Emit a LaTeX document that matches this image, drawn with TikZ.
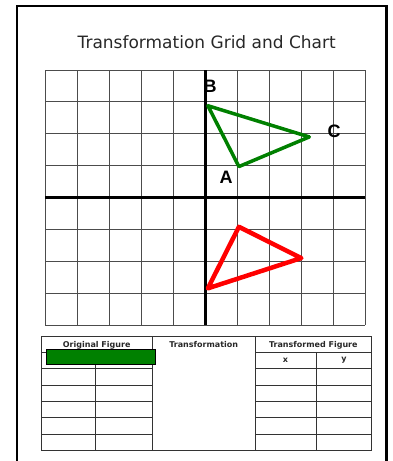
\documentclass[tikz,border=0pt]{standalone}
\usepackage{fontspec}
\setmainfont{DejaVu Sans}
\newfontfamily\pointfont{Liberation Sans}
\usetikzlibrary{positioning}
\definecolor{origgreen}{RGB}{0,128,0}
\definecolor{imagered}{RGB}{255,0,0}
\definecolor{darkgray}{RGB}{40,40,40}

\begin{document}
\begin{tikzpicture}[x=1pt, y=-1pt,
	gridline/.style={
		draw=black!70,
		line width=0.9pt
	},
	axisline/.style={
		draw=black,
		line width=3.2pt
	},
	triangle/.style={
		draw=#1,
		line width=3.5pt,
		line join=round
	},
	pointlabel/.style={
		font=\pointfont\fontsize{18}{20}\selectfont\bfseries
	},
	tableline/.style={
		draw=black!80,
		line width=1pt
	},
	headtext/.style={
		font=\fontsize{8}{9}\selectfont\bfseries,
		color=darkgray
	}
	]
	\useasboundingbox (0,0) rectangle (392,461);
	
	% Frame
	\draw[line width=2.6pt] (17,461) -- (17,6) -- (386.7,6) -- (386.7,461);
	
	% Title
	\node[font=\fontsize{17}{20}\selectfont, color=darkgray] (title) at (206.7,42) {Transformation Grid and Chart};
	
	% Grid and axes
	\begin{scope}[shift={(45.3,325)}, x=32pt, y=31.875pt]
		\draw[gridline, xstep=32pt, ystep=31.875pt] (0,0) grid (10,8);
		\draw[axisline] (0,4) -- (10,4);
		\draw[axisline] (5,0) -- (5,8);
		
		% Original figure
		\draw[triangle=origgreen] (5.08,6.88) coordinate (B) -- (6.05,4.97) coordinate (A) -- (8.25,5.9) coordinate (C) -- cycle;
		
		% Transformed figure
		\draw[triangle=imagered, line width=4.5pt] (6.05,3.08) coordinate (A') -- (8.0,2.1) coordinate (C') -- (5.08,1.15) coordinate (B') -- cycle;
	\end{scope}
	
	% Vertex labels
	\node[pointlabel] (labB) at (210,86) {B};
	\node[pointlabel] (labC) at (334,131.7) {C};
	\node[pointlabel] (labA) at (226,177) {A};
	
	% Chart lines
	\draw[tableline] (41,336.7) rectangle (371.7,450);
	\draw[tableline] (152.7,336.7) -- (152.7,450);
	\draw[tableline] (255,336.7) -- (255,450);
	\draw[tableline] (95.3,352.7) -- (95.3,450);
	\draw[tableline] (316,352.7) -- (316,450);
	\draw[tableline] (41,352.7) -- (152.7,352.7) (255,352.7) -- (371.7,352.7);
	\draw[tableline] (41,368.3) -- (152.7,368.3) (255,368.3) -- (371.7,368.3);
	\draw[tableline] (41,385) -- (152.7,385) (255,385) -- (371.7,385);
	\draw[tableline] (41,401) -- (152.7,401) (255,401) -- (371.7,401);
	\draw[tableline] (41,417.3) -- (152.7,417.3) (255,417.3) -- (371.7,417.3);
	\draw[tableline] (41,434) -- (152.7,434) (255,434) -- (371.7,434);
	
	% Chart headings
	\node[headtext] (origfig) at (96.7,345) {Original Figure};
	\node[headtext] (transf) at (203.7,345) {Transformation};
	\node[headtext] (newfig) at (313.3,345) {Transformed Figure};
	\node[headtext] (newx) at (285.5,360.5) {x};
	\node[headtext] (newy) at (343.9,360.5) {y};
	
	% Green marker over the original columns
	\node[draw=black, fill=origgreen, line width=0.8pt, inner sep=0pt, minimum width=108.6pt, minimum height=15pt] (marker) at (101,356.8) {};
	
\end{tikzpicture}
\end{document}
